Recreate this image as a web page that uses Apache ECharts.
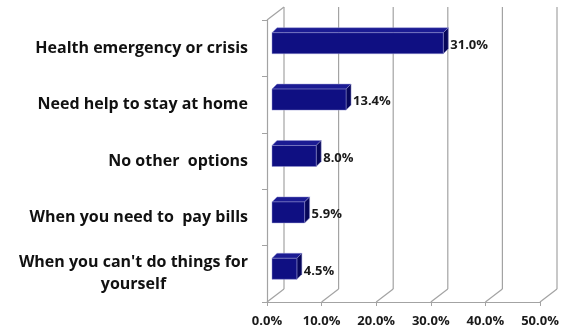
<!DOCTYPE html>
<html>
<head>
<meta charset="utf-8">
<script src="https://cdn.jsdelivr.net/npm/echarts@6/dist/echarts.min.js"></script>
<style>
  html, body { margin: 0; padding: 0; background: #ffffff; }
  #chart { width: 568px; height: 332px; }
</style>
</head>
<body>
<div id="chart"></div>
<script>
// Reasons for seeking care, share of respondents
const categories = [
  'Health emergency or crisis',
  'Need help to stay at home',
  'No other  options',
  'When you need to  pay bills',
  "When you can't do things for\nyourself"
];
const values = [31.0, 13.4, 8.0, 5.9, 4.5];
const xTicks = [0, 10, 20, 30, 40, 50];

const FONT = '"Open Sans", Lato, sans-serif';
const DEPTH = [17, -13];      // wall depth offset
const BAR_SHIFT = [5, -5];    // bars sit part-way into the depth
const BAR_DEPTH = [5, -5];    // thickness of each bar
const BAR_SCALE = 1.012;      // slight widening of the scale at bar depth
const BAR_H = 21;

const chart = echarts.init(document.getElementById('chart'), null, { renderer: 'canvas' });

function wallItem(params, api) {
  const v = api.value(0);
  const cs = params.coordSys;
  const x = api.coord([v, 0])[0];
  const top = cs.y, bottom = cs.y + cs.height;
  const style = { stroke: '#a3a3a3', lineWidth: 1.2, fill: null };
  const children = [
    { type: 'line', shape: { x1: x + DEPTH[0], y1: top + DEPTH[1], x2: x + DEPTH[0], y2: bottom + DEPTH[1] }, style },
    { type: 'line', shape: { x1: x, y1: bottom, x2: x + DEPTH[0], y2: bottom + DEPTH[1] }, style }
  ];
  if (v === 0) {
    children.push({ type: 'line', shape: { x1: x, y1: top, x2: x + DEPTH[0], y2: top + DEPTH[1] }, style });
  }
  return { type: 'group', children };
}

function barItem(params, api) {
  const v = api.value(0);
  const idx = api.value(1);
  const p0 = api.coord([0, idx]);
  const p1 = api.coord([v, idx]);
  const x0 = p0[0] + BAR_SHIFT[0];
  const x1 = x0 + (p1[0] - p0[0]) * BAR_SCALE;
  const cy = p0[1] + BAR_SHIFT[1];
  const y0 = cy - BAR_H / 2, y1 = cy + BAR_H / 2;
  const dx = BAR_DEPTH[0], dy = BAR_DEPTH[1];
  const edge = 'rgba(150,150,210,0.6)';
  return {
    type: 'group',
    children: [
      { type: 'polygon', shape: { points: [[x0, y0], [x0 + dx, y0 + dy], [x1 + dx, y0 + dy], [x1, y0]] },
        style: { fill: '#1b1b93', stroke: edge, lineWidth: 0.8 } },
      { type: 'polygon', shape: { points: [[x1, y0], [x1 + dx, y0 + dy], [x1 + dx, y1 + dy], [x1, y1]] },
        style: { fill: '#07075a', stroke: edge, lineWidth: 0.8 } },
      { type: 'rect', shape: { x: x0, y: y0, width: x1 - x0, height: BAR_H },
        style: { fill: '#0f0f82', stroke: edge, lineWidth: 0.8 } },
      { type: 'text', x: x1 + dx + 2, y: cy + 2,
        style: { text: v.toFixed(1) + '%', font: 'bold 13px ' + FONT, fill: '#1a1a1a',
                 textAlign: 'left', textVerticalAlign: 'middle' } }
    ]
  };
}

const labelStyle = { fontFamily: FONT, fontWeight: 'bold', fontSize: 16, color: '#111111', lineHeight: 22 };

const option = {
  animation: false,
  backgroundColor: '#ffffff',
  grid: { left: 267, top: 20, width: 273, height: 282 },
  xAxis: {
    type: 'value', min: 0, max: 50, interval: 10,
    axisLine: { show: true, lineStyle: { color: '#a3a3a3', width: 1.2 } },
    axisTick: { show: true, length: 4, lineStyle: { color: '#a3a3a3' } },
    splitLine: { show: false },
    axisLabel: { formatter: v => v.toFixed(1) + '%', margin: 13,
                 fontFamily: FONT, fontWeight: 'bold', fontSize: 13, color: '#1a1a1a' }
  },
  yAxis: {
    type: 'category', data: categories, inverse: true,
    axisLine: { show: true, lineStyle: { color: '#a3a3a3', width: 1.2 } },
    axisTick: { show: true, length: 5, lineStyle: { color: '#a3a3a3' } },
    axisLabel: Object.assign({
      margin: 19,
      formatter: function (s) {
        const parts = s.split('\n');
        if (parts.length > 1) return '{a|' + parts[0] + '}\n{c|' + parts[1] + '}';
        return '{a|' + s + '}';
      },
      rich: {
        a: Object.assign({}, labelStyle),
        c: Object.assign({ align: 'center' }, labelStyle)
      }
    }, labelStyle)
  },
  series: [
    { type: 'custom', name: 'walls', renderItem: wallItem, data: xTicks.map(v => [v, 0]), z: 1, silent: true },
    { type: 'custom', name: 'share', renderItem: barItem, data: values.map((v, i) => [v, i]), z: 3 }
  ]
};
chart.setOption(option);
</script>
</body>
</html>
